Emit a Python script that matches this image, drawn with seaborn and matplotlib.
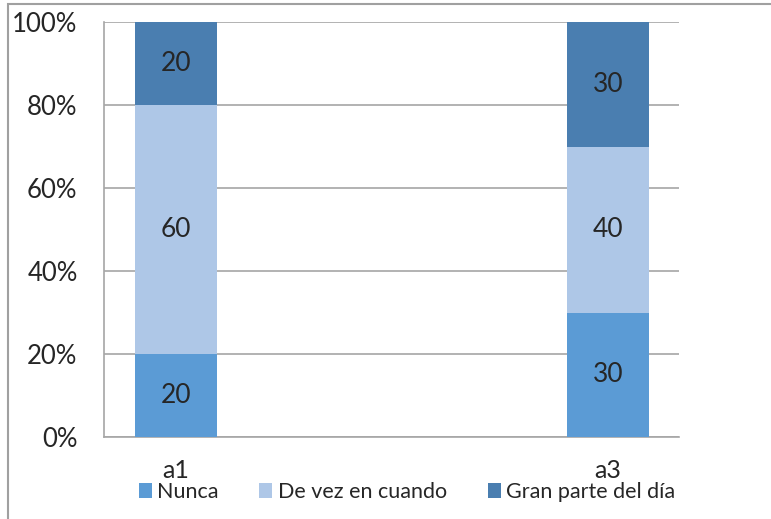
import matplotlib
matplotlib.use('Agg')
import matplotlib.pyplot as plt
import seaborn as sns
import pandas as pd
from matplotlib.patches import Rectangle, Patch

categorias = ['a1', 'a3']
series = ['Nunca', 'De vez en cuando', 'Gran parte del día']
nunca = [20, 30]
de_vez = [60, 40]
gran_parte = [20, 30]
colores = ['#5B9BD5', '#AEC7E7', '#4A7EB0']
yticks = [0, 20, 40, 60, 80, 100]

sns.set_style('white')
plt.rcParams['font.family'] = ['Lato', 'DejaVu Sans']

fig = plt.figure(figsize=(7.71, 5.19), dpi=100)
ax = fig.add_axes([104 / 771, 1 - 437 / 519, 575 / 771, 415 / 519])

valores = [nunca, de_vez, gran_parte]
base = [0, 0]
for nombre, vals, col in zip(series, valores, colores):
    df = pd.DataFrame({'cat': categorias, 'val': vals})
    sns.barplot(data=df, x='cat', y='val', bottom=base, color=col, saturation=1,
                width=0.19, ax=ax, zorder=3, linewidth=0, edgecolor='none')
    ax.bar_label(ax.containers[-1], labels=[str(v) for v in vals],
                 label_type='center', fontsize=19)
    base = [b + v for b, v in zip(base, vals)]

ax.set_xlim(-0.1667, 1.164)
ax.set_ylim(0, 100)
ax.set_yticks(yticks)
ax.set_yticklabels([f'{t}%' for t in yticks], fontsize=18.5)
ax.tick_params(axis='y', length=0, pad=19)
ax.tick_params(axis='x', length=0, pad=16, labelsize=18)
ax.set_xlabel('')
ax.set_ylabel('')
ax.yaxis.grid(True, color='#A6A6A6', linewidth=1.2, zorder=0)
ax.set_axisbelow(True)
for s in ['top', 'right']:
    ax.spines[s].set_visible(False)
for s in ['left', 'bottom']:
    ax.spines[s].set_color('#A6A6A6')
    ax.spines[s].set_linewidth(1.2)

# marco del gráfico
fig.patches.append(Rectangle((8 / 771, -0.1), 1.2, 1 - 4 / 519 + 0.1,
                             transform=fig.transFigure, fill=False,
                             edgecolor='#A0A0A0', linewidth=1.5))

handles = [Patch(facecolor=c, edgecolor='none') for c in colores]
fig.legend(handles, series, loc='center', bbox_to_anchor=(407 / 771, 1 - 492 / 519),
           ncol=3, frameon=False, fontsize=15.5, handlelength=0.6, handleheight=0.7,
           handletextpad=0.25, columnspacing=1.9, borderaxespad=0)

fig.savefig('out.png', dpi=100)
